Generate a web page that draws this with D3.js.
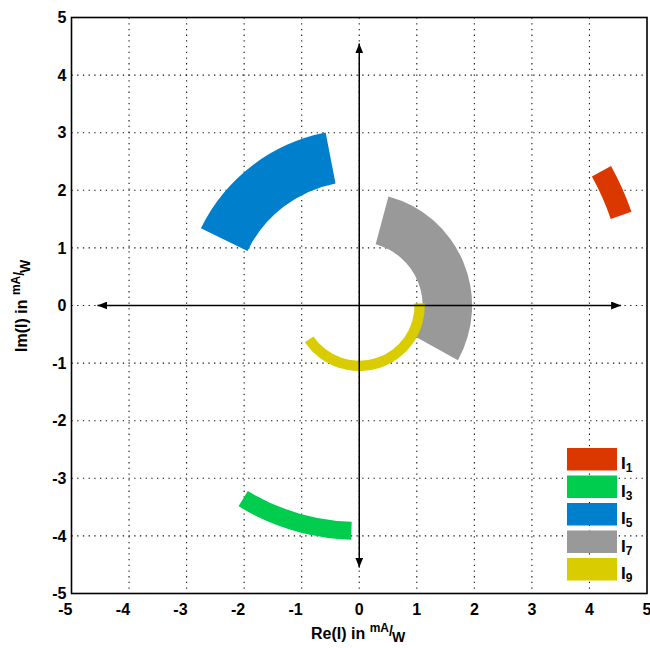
<!DOCTYPE html>
<html>
<head>
<meta charset="utf-8">
<script src="https://cdn.jsdelivr.net/npm/d3@7"></script>
<style>
  body { margin: 0; background: #fff; }
  svg { display: block; }
  text { font-family: "Liberation Sans", Arial, sans-serif; font-weight: bold; fill: #000; }
</style>
</head>
<body>
<svg id="svg" width="650" height="648"></svg>
<script>
// harmonic current loci (radius in mA/W, angle in degrees)
let harmonics = ["1", "3", "5", "7", "9"];
let colors = ["#db3800", "#00cc4e", "#0080cc", "#999999", "#d9cc00"];
let innerR = [4.62, 3.76, 2.16, 1.10, 0.96];
let outerR = [5.00, 4.07, 3.06, 1.96, 1.14];
let startDeg = [19, -121, 101, -29, -146];
let endDeg = [29, -92, 154, 75, 2];

let ticks = [-5, -4, -3, -2, -1, 0, 1, 2, 3, 4, 5];
let arrowExtent = 4.55;

let svg = d3.select("svg");
let margin = {top: 17.5, right: 3, bottom: 54.5, left: 71.5};
let width = 650 - margin.left - margin.right;
let height = 648 - margin.top - margin.bottom;

let x = d3.scaleLinear().domain([-5, 5]).range([0, width]);
let y = d3.scaleLinear().domain([-5, 5]).range([height, 0]);

let defs = svg.append("defs");
defs.append("marker")
  .attr("id", "arrow")
  .attr("viewBox", "0 0 10 8")
  .attr("refX", 10).attr("refY", 4)
  .attr("markerWidth", 10).attr("markerHeight", 8)
  .attr("markerUnits", "userSpaceOnUse")
  .attr("orient", "auto-start-reverse")
  .append("path")
  .attr("d", "M0,0L10,4L0,8Z")
  .attr("fill", "#000");

let g = svg.append("g")
  .attr("transform", "translate(" + margin.left + "," + margin.top + ")");

// dotted grid
g.append("g").selectAll("line")
  .data(ticks.slice(1, -1))
  .enter().append("line")
  .attr("x1", d => x(d)).attr("x2", d => x(d))
  .attr("y1", 0).attr("y2", height)
  .attr("stroke", "#111").attr("stroke-width", 1.1)
  .attr("stroke-dasharray", "1.3,4.4");
g.append("g").selectAll("line")
  .data(ticks.slice(1, -1))
  .enter().append("line")
  .attr("y1", d => y(d)).attr("y2", d => y(d))
  .attr("x1", 0).attr("x2", width)
  .attr("stroke", "#111").attr("stroke-width", 1.1)
  .attr("stroke-dasharray", "1.3,4.4");

// annular sectors
let k = (x(1) - x(0) + y(0) - y(1)) / 2;
let arc = d3.arc();
let rad = deg => Math.PI / 2 - deg * Math.PI / 180;
g.append("g")
  .attr("transform", "translate(" + x(0) + "," + y(0) + ")")
  .selectAll("path")
  .data(harmonics)
  .enter().append("path")
  .attr("fill", (d, i) => colors[i])
  .attr("d", (d, i) => arc({
    innerRadius: innerR[i] * k,
    outerRadius: outerR[i] * k,
    startAngle: rad(endDeg[i]),
    endAngle: rad(startDeg[i])
  }));

// axis arrows
g.append("line")
  .attr("x1", x(-arrowExtent)).attr("x2", x(arrowExtent))
  .attr("y1", y(0)).attr("y2", y(0))
  .attr("stroke", "#000").attr("stroke-width", 1.5)
  .attr("marker-start", "url(#arrow)").attr("marker-end", "url(#arrow)");
g.append("line")
  .attr("x1", x(0)).attr("x2", x(0))
  .attr("y1", y(-arrowExtent)).attr("y2", y(arrowExtent))
  .attr("stroke", "#000").attr("stroke-width", 1.5)
  .attr("marker-start", "url(#arrow)").attr("marker-end", "url(#arrow)");

// frame
g.append("rect")
  .attr("width", width).attr("height", height)
  .attr("fill", "none").attr("stroke", "#000").attr("stroke-width", 1.6);

// tick labels
g.append("g").selectAll("text")
  .data(ticks)
  .enter().append("text")
  .attr("x", d => d < 0 ? x(d) + 1 : x(d))
  .attr("y", height + 21)
  .attr("text-anchor", d => d < 0 ? "end" : "middle")
  .attr("font-size", 16)
  .text(d => d);
g.append("g").selectAll("text")
  .data(ticks)
  .enter().append("text")
  .attr("x", -5)
  .attr("y", d => y(d))
  .attr("dy", "0.36em")
  .attr("text-anchor", "end")
  .attr("font-size", 16)
  .text(d => d);

// axis titles
let xt = svg.append("text")
  .attr("x", 311).attr("y", 639)
  .attr("font-size", 16);
xt.append("tspan").text("Re(I) in ");
xt.append("tspan").attr("font-size", 12).attr("dy", -7).text("mA");
xt.append("tspan").attr("font-size", 14).attr("dy", 4).text("/");
xt.append("tspan").attr("font-size", 14).attr("dy", 6).attr("dx", -1).text("W");

let yt = svg.append("text")
  .attr("transform", "translate(27,352) rotate(-90)")
  .attr("font-size", 16);
yt.append("tspan").text("Im(I) in ");
yt.append("tspan").attr("font-size", 12).attr("dy", -7).text("mA");
yt.append("tspan").attr("font-size", 14).attr("dy", 4).text("/");
yt.append("tspan").attr("font-size", 14).attr("dy", 6).attr("dx", -1).text("W");

// legend
let legend = svg.append("g").selectAll("g")
  .data(harmonics)
  .enter().append("g")
  .attr("transform", (d, i) => "translate(567," + (448 + i * 27.5) + ")");
legend.append("rect")
  .attr("width", 50).attr("height", 22.5)
  .attr("fill", (d, i) => colors[i]);
let lt = legend.append("text")
  .attr("x", 54).attr("y", 21)
  .attr("font-size", 17);
lt.append("tspan").text("I");
lt.append("tspan").attr("font-size", 12).attr("dy", 3).text(d => d);
</script>
</body>
</html>
